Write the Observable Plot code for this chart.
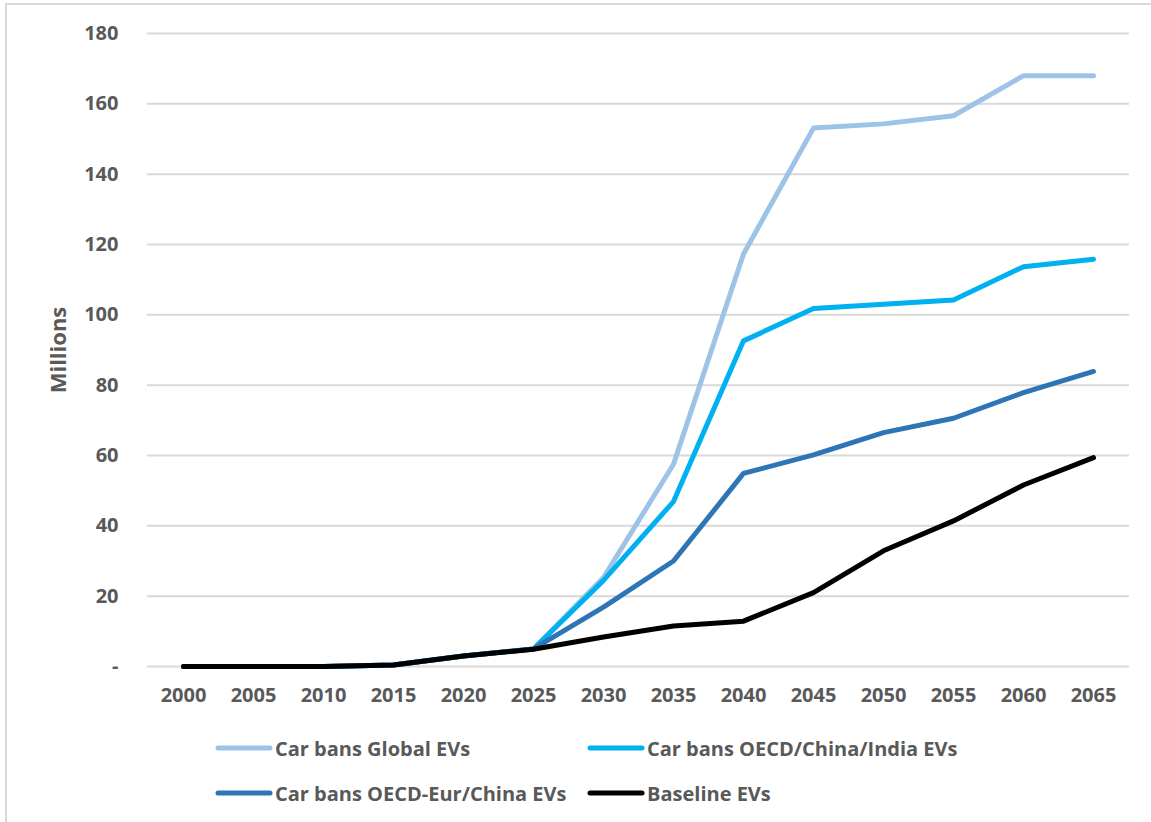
<!DOCTYPE html>
<html>
<head>
<meta charset="utf-8">
<script src="https://cdn.jsdelivr.net/npm/d3@7"></script>
<script src="https://cdn.jsdelivr.net/npm/@observablehq/plot@0.6"></script>
<style>
  html, body { margin: 0; padding: 0; background: #fff; }
  body { width: 1151px; height: 822px; position: relative; overflow: hidden; font-family: "Open Sans", Lato, sans-serif; }
  #frame { position: absolute; left: 5px; top: 3px; width: 1160px; height: 830px; border-left: 2px solid #d9d9d9; border-top: 2px solid #d9d9d9; }
  #chart { position: absolute; left: 0; top: 0; }
  #legend { position: absolute; left: 0; top: 720px; width: 1151px; height: 102px; }
  .item { position: absolute; display: flex; align-items: center; height: 24px; color: #595959; font-weight: 700; font-size: 20px; white-space: nowrap; }
  .item svg { display: block; margin-right: 2px; }
</style>
</head>
<body>
<div id="frame"></div>
<div id="chart"></div>
<div id="legend"></div>
<script>
// Years on the horizontal axis
const years = [2000, 2005, 2010, 2015, 2020, 2025, 2030, 2035, 2040, 2045, 2050, 2055, 2060, 2065];

// EV stock per scenario, millions
const globalBanEVs        = [0, 0, 0, 0.4, 3.0, 5.0, 25.3, 57.5, 117.3, 153.1, 154.3, 156.6, 168.0, 168.0];
const oecdChinaIndiaEVs   = [0, 0, 0, 0.4, 3.0, 5.0, 24.5, 46.9, 92.6, 101.8, 103.0, 104.2, 113.7, 115.8];
const oecdEurChinaEVs     = [0, 0, 0, 0.4, 3.0, 5.0, 16.9, 30.0, 54.9, 60.2, 66.5, 70.6, 77.9, 83.9];
const baselineEVs         = [0, 0, 0, 0.4, 3.0, 4.9, 8.4, 11.5, 12.9, 21.0, 32.9, 41.4, 51.6, 59.4];

// Series names and colours
const seriesNames  = ["Car bans Global EVs", "Car bans OECD/China/India EVs", "Car bans OECD-Eur/China EVs", "Baseline EVs"];
const seriesColors = ["#9dc3e6", "#00b0f0", "#2e75b6", "#000000"];
const seriesValues = [globalBanEVs, oecdChinaIndiaEVs, oecdEurChinaEVs, baselineEVs];

// Vertical axis ticks
const yTicks = [0, 20, 40, 60, 80, 100, 120, 140, 160, 180];

const tidy = seriesNames.flatMap((name, i) =>
  years.map((year, j) => ({series: name, year, value: seriesValues[i][j]}))
);

const textColor = "#595959";

const chart = Plot.plot({
  width: 1151,
  height: 720,
  marginLeft: 147,
  marginRight: 22,
  marginTop: 33,
  marginBottom: 54,
  style: {fontFamily: "'Open Sans', Lato, sans-serif", fontSize: "20px", fontWeight: 700, color: textColor, background: "transparent"},
  x: {type: "point", domain: years, padding: 0.5},
  y: {domain: [0, 180]},
  color: {domain: seriesNames, range: seriesColors},
  marks: [
    Plot.gridY(yTicks, {stroke: "#d9d9d9", strokeOpacity: 1, strokeWidth: 2}),
    Plot.axisY(yTicks, {tickSize: 0, tickPadding: 29, label: null, tickFormat: d => d === 0 ? "-" : String(d)}),
    Plot.axisX(years, {tickSize: 0, tickPadding: 21, label: null, tickFormat: d => String(d)}),
    Plot.text(["Millions"], {frameAnchor: "left", textAnchor: "middle", dx: -89, rotate: -90, fontSize: 22, fontWeight: 700, fill: textColor}),
    ...seriesNames.map(name =>
      Plot.line(tidy.filter(d => d.series === name), {
        x: "year", y: "value", stroke: "series",
        strokeWidth: 5, strokeLinecap: "round", strokeLinejoin: "round"
      })
    )
  ]
});
document.getElementById("chart").appendChild(chart);

// Legend, two rows of two entries
const legendPos = [[215, 28], [587, 28], [215, 73], [587, 73]];
const legend = document.getElementById("legend");
seriesNames.forEach((name, i) => {
  const item = document.createElement("div");
  item.className = "item";
  item.style.left = legendPos[i][0] + "px";
  item.style.top = (legendPos[i][1] - 12) + "px";
  item.innerHTML = `<svg width="58" height="10"><line x1="3" y1="5" x2="55" y2="5" stroke="${seriesColors[i]}" stroke-width="5" stroke-linecap="round"/></svg><span>${name}</span>`;
  legend.appendChild(item);
});
</script>
</body>
</html>
